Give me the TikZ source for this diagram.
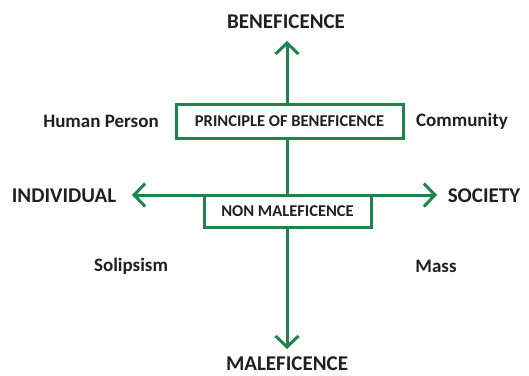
\documentclass[tikz,border=0pt]{standalone}
\usepackage{fontspec}
\setmainfont{Carlito}
\usetikzlibrary{arrows.meta}
\definecolor{axisgreen}{RGB}{30,132,73}
\definecolor{inkgray}{RGB}{35,31,32}
\tikzset{
  axis/.style={draw=axisgreen,line width=3pt,-{Straight Barb[length=11pt,width=23pt]}},
  stem/.style={draw=axisgreen,line width=3pt},
  pole/.style={text=inkgray,font=\bfseries\fontsize{21}{24}\selectfont},
  side/.style={text=inkgray,font=\bfseries\fontsize{19}{22}\selectfont},
  principle/.style={draw=axisgreen,line width=3pt,fill=white,text=inkgray,
    font=\bfseries\fontsize{16.5}{19}\selectfont,inner sep=0pt},
}
\begin{document}
\begin{tikzpicture}[x=1pt,y=-1pt]
    \useasboundingbox (0,0) rectangle (529,375);
    % end points of the two axes
    \coordinate(top) at (287,41);
    \coordinate(bottom) at (287,349);
    \coordinate(left) at (132,195);
    \coordinate(right) at (437,195);
    \coordinate(centre) at (287,195);

    % poles
    \node[pole](ben) at (286,22) {BENEFICENCE};
    \node[pole](mal) at (287,364) {MALEFICENCE};
    \node[pole](ind) at (64,196) {INDIVIDUAL};
    \node[pole](soc) at (484,196) {SOCIETY};

    % corner labels
    \node[side](hp) at (101,121) {Human Person};
    \node[side](com) at (462,121) {Community};
    \node[side](sol) at (131,266) {Solipsism};
    \node[side](mass) at (436,266) {Mass};

    % horizontal axis, then the boxes on the vertical one
    \draw[axis](centre)--(left);
    \draw[axis](centre)--(right);
    \node[principle,minimum width=227pt,minimum height=34pt](pob) at (289.5,121) {PRINCIPLE OF BENEFICENCE};
    \node[principle,minimum width=167pt,minimum height=32pt](nm) at (287.5,211) {NON MALEFICENCE};
    \draw[axis](pob.north-|top)--(top);
    \draw[stem](pob.south-|top)--(centre);
    \draw[axis](nm.south-|bottom)--(bottom);
  \end{tikzpicture}
\end{document}
